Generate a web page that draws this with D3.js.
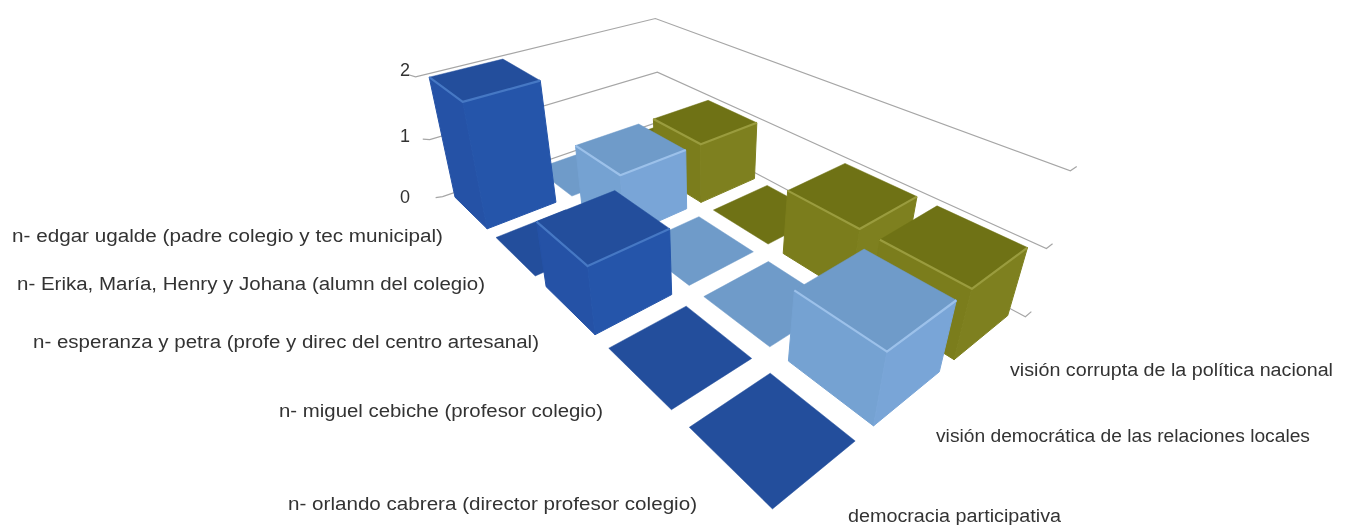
<!DOCTYPE html>
<html>
<head>
<meta charset="utf-8">
<script src="https://cdn.jsdelivr.net/npm/d3@7"></script>
<style>
  body { margin: 0; background: #fff; }
  svg { display: block; filter: blur(0.5px); }
  text { font-family: "Liberation Sans", Arial, sans-serif; fill: #333; }
</style>
</head>
<body>
<svg id="chart" width="1350" height="525"></svg>
<script>
const categories = [
  'n- edgar ugalde (padre colegio y tec municipal)',
  'n- Erika, María, Henry y Johana (alumn del colegio)',
  'n- esperanza y petra (profe y direc del centro artesanal)',
  'n- miguel cebiche (profesor colegio)',
  'n- orlando cabrera (director profesor colegio)'
];
const seriesNames = [
  'democracia participativa',
  'visión democrática de las relaciones locales',
  'visión corrupta de la política nacional'
];
const democracia = [2, 0, 1, 0, 0];
const democratica = [0, 1, 0, 0, 1];
const corrupta = [0, 1, 0, 1, 1];
const valueTicks = [0, 1, 2];

// camera fitted to the reference: world (category, series, value) -> screen
const CAM = [
  [-4.087280, 119.295223, -32.988642, 442.633270],
  [18.634386, -16.273168, -63.516272, 196.610965],
  [-0.090737, 0.071488, -0.046814, 1]
];
const project = (c, s, z) => {
  const w = CAM[2][0] * c + CAM[2][1] * s + CAM[2][2] * z + CAM[2][3];
  return [
    (CAM[0][0] * c + CAM[0][1] * s + CAM[0][2] * z + CAM[0][3]) / w,
    (CAM[1][0] * c + CAM[1][1] * s + CAM[1][2] * z + CAM[1][3]) / w
  ];
};

const cScale = d3.scaleBand().domain(categories).range([0, 5]).paddingInner(0.2).paddingOuter(0.1);
const sScale = d3.scaleBand().domain(seriesNames).range([0, 3]).paddingInner(0.2).paddingOuter(0.1);
const zScale = d3.scaleLinear().domain([0, 2]).range([0, 2]);

const palette = [
  { top: '#234e9c', left: '#2552a6', right: '#2555aa', edge: '#4678c4' },
  { top: '#6f9bc9', left: '#75a2d2', right: '#79a5d7', edge: '#9cc1ea' },
  { top: '#6f7215', left: '#7b7d1c', right: '#7e801f', edge: '#9a9c3e' }
];
const seriesValues = [democracia, democratica, corrupta];

const svg = d3.select('#chart');
const line = d3.line();
const poly = pts => line(pts) + 'Z';

// walls
const grid = svg.append('g').attr('fill', 'none').attr('stroke', '#a6a6a6').attr('stroke-width', 1.2);
valueTicks.forEach(v => {
  const z = zScale(v);
  const [x, y] = project(0, 0, z);
  grid.append('path').attr('d', line([
    [x - 7, y + 1 - 1.5 * z], [x, y], project(0, 3, z), project(5, 3, z), project(5, 3.1, z)
  ]));
});

// bars, back row first
const bars = [];
seriesNames.forEach((name, si) => categories.forEach((cat, ci) => {
  bars.push({ cat, name, si, ci, value: seriesValues[si][ci] });
}));
bars.sort((a, b) => d3.descending(a.si, b.si) || d3.ascending(a.ci, b.ci));

const barG = svg.append('g').attr('stroke-linejoin', 'round');
bars.forEach(d => {
  const c0 = cScale(d.cat), c1 = c0 + cScale.bandwidth();
  const s0 = sScale(d.name), s1 = s0 + sScale.bandwidth();
  const z = zScale(d.value);
  const col = palette[d.si];
  const g = barG.append('g');
  if (d.value > 0) {
    g.append('path').attr('fill', col.left).attr('stroke', col.left).attr('stroke-width', 1)
      .attr('d', poly([project(c0, s0, 0), project(c1, s0, 0), project(c1, s0, z), project(c0, s0, z)]));
    g.append('path').attr('fill', col.right).attr('stroke', col.right).attr('stroke-width', 1)
      .attr('d', poly([project(c1, s0, 0), project(c1, s1, 0), project(c1, s1, z), project(c1, s0, z)]));
  }
  g.append('path').attr('fill', col.top).attr('stroke', col.top).attr('stroke-width', 0.5)
    .attr('d', poly([project(c0, s0, z), project(c0, s1, z), project(c1, s1, z), project(c1, s0, z)]));
  if (d.value > 0) {
    g.append('path').attr('fill', 'none').attr('stroke', col.edge).attr('stroke-width', 2.2)
      .attr('d', line([project(c0, s0, z), project(c1, s0, z), project(c1, s1, z)]));
  }
});

// value labels
valueTicks.forEach(v => {
  const z = zScale(v);
  svg.append('text').attr('x', 405).attr('y', project(0, 0, z)[1] - 3.5 * z)
    .attr('text-anchor', 'middle').attr('dy', '0.35em').attr('font-size', 18).text(v);
});

// label spots: start x, end x, middle y
const catSpots = [[12, 443, 236], [17, 485, 284], [33, 539, 342], [279, 603, 411], [288, 697, 504]];
const serSpots = [[848, 1061, 516], [936, 1310, 436], [1010, 1333, 370]];
const addLabels = (names, spots) => names.forEach((t, i) => {
  const [x0, x1, y] = spots[i];
  svg.append('text').attr('x', x0).attr('y', y).attr('dy', '0.35em')
    .attr('font-size', 18).attr('textLength', x1 - x0).attr('lengthAdjust', 'spacingAndGlyphs').text(t);
});
addLabels(categories, catSpots);
addLabels(seriesNames, serSpots);
</script>
</body>
</html>
